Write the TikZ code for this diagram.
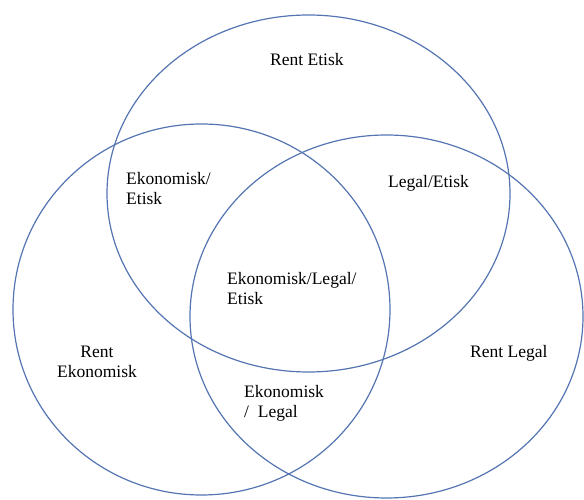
\documentclass[tikz,border=0pt]{standalone}
\usepackage{fontspec}
\setmainfont{Liberation Serif}
\usepackage{xcolor}
\usetikzlibrary{shapes.geometric}

\definecolor{ringblue}{RGB}{84,116,178}

\begin{document}
\begin{tikzpicture}[x=1pt,y=1pt, ring/.style={draw=ringblue,line width=1.2pt,ellipse,inner sep=0pt}, area/.style={font=\fontsize{17.5}{20}\selectfont,inner sep=0pt,align=left,anchor=base west}]
\useasboundingbox (0,0) rectangle (584,500);
\node[ring,minimum width=403pt,minimum height=357pt] (etisk) at (308.5,306.5) {};
\node[ring,minimum width=377pt,minimum height=371pt] (ekonomisk) at (201.5,190.5) {};
\node[ring,minimum width=393pt,minimum height=363pt] (legal) at (386.5,183.5) {};
\node[area] (renteti) at (270,434) {Rent Etisk};
\node[area] (ekoeti) at (126,295) {Ekonomisk/\\Etisk};
\node[area] (legeti) at (388,312) {Legal/Etisk};
\node[area] (alla) at (227,195) {Ekonomisk/Legal/\\Etisk};
\node[area,align=center,anchor=base] (renteko) at (97,122) {Rent\\Ekonomisk};
\node[area] (ekoleg) at (244,82) {Ekonomisk\\/ \ Legal};
\node[area] (rentleg) at (470,142) {Rent Legal};
\end{tikzpicture}
\end{document}
